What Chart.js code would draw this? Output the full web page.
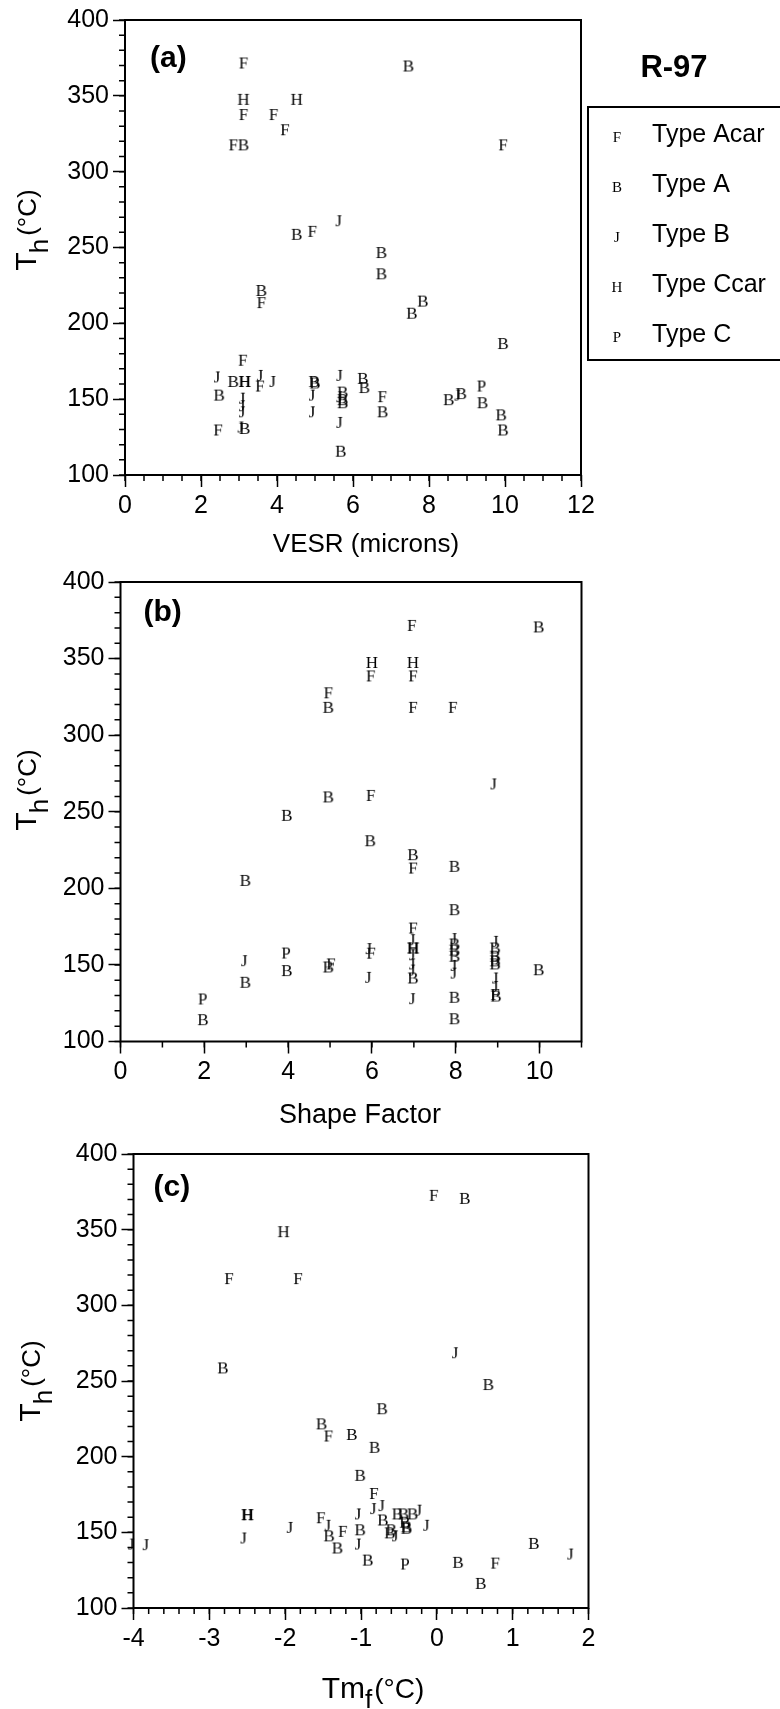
<!DOCTYPE html>
<html>
<head>
<meta charset="utf-8">
<script src="https://cdn.jsdelivr.net/npm/chart.js@4.4.1/dist/chart.umd.min.js"></script>
<style>
  html, body { margin: 0; padding: 0; background: #fff; }
  body { position: relative; width: 780px; height: 1709px; overflow: hidden; }
  canvas { position: absolute; left: 0; top: 0; }
</style>
</head>
<body>
<canvas id="chartA" width="780" height="1709"></canvas>
<canvas id="chartB" width="780" height="1709"></canvas>
<canvas id="chartC" width="780" height="1709"></canvas>
<script>
// inclusion types, legend order
const typeLabels = ['Type Acar', 'Type A', 'Type B', 'Type Ccar', 'Type C']
const typeSymbols = ['F', 'B', 'J', 'H', 'P']

// tick labels
const thTicks = [100, 150, 200, 250, 300, 350, 400]
const vesrTicks = [0, 2, 4, 6, 8, 10, 12]
const shapeTicks = [0, 2, 4, 6, 8, 10]
const tmfTicks = [-4, -3, -2, -1, 0, 1, 2]

// (a) VESR (microns) vs Th
const vesrAcar = [[3.12, 372], [3.12, 338], [3.91, 338], [4.21, 328], [2.85, 318], [4.93, 261], [3.59, 214], [3.10, 176], [2.45, 130], [3.55, 159], [6.77, 152], [9.95, 318]]
const vesrA = [[3.12, 318], [4.52, 259], [6.75, 247], [6.75, 233], [3.59, 222], [2.48, 153], [2.85, 162], [3.15, 131], [4.98, 162], [5.00, 161], [5.73, 155], [5.73, 150], [5.73, 148], [5.68, 116], [6.26, 164], [6.30, 158], [6.78, 142], [7.46, 370], [7.55, 207], [7.84, 215], [9.95, 187], [9.41, 148], [8.52, 150], [8.85, 154], [9.90, 140], [9.95, 130]]
const vesrB = [[5.62, 268], [2.42, 165], [3.08, 151], [3.08, 146], [3.08, 142], [3.04, 132], [3.55, 166], [3.88, 162], [4.92, 153], [4.92, 142], [5.64, 166], [5.64, 152], [5.64, 135], [8.75, 153]]
const vesrCcar = [[3.12, 348], [4.52, 348], [3.15, 162], [3.16, 162]]
const vesrC = [[9.38, 159], [15.65, 129]]

// (b) Shape Factor vs Th
const shapeAcar = [[6.95, 372], [5.97, 339], [4.96, 328], [5.97, 261], [6.98, 339], [6.98, 318.5], [7.93, 318.5], [5.02, 151], [5.98, 158], [6.98, 213.6], [6.98, 174.4], [8.94, 131]]
const shapeA = [[9.98, 371], [4.96, 318.5], [4.96, 260], [3.97, 248], [5.96, 231.4], [2.98, 205.5], [1.97, 114.6], [2.98, 139], [3.97, 146.6], [4.96, 149], [6.98, 222.3], [7.97, 214.7], [7.97, 186.4], [6.98, 141.8], [7.97, 164], [7.97, 160], [7.97, 156], [7.97, 129.2], [7.97, 115.2], [8.94, 161.4], [8.94, 156], [8.94, 153], [8.94, 151], [8.96, 130], [9.98, 147.2]]
const shapeB = [[8.90, 268.5], [2.95, 153.1], [5.92, 161], [5.91, 142.2], [6.96, 166.8], [6.96, 157], [6.96, 151], [6.96, 147], [6.96, 128.3], [7.95, 167.5], [7.95, 150], [7.95, 145], [8.94, 165.7], [8.94, 141.8], [8.94, 136.3]]
const shapeCcar = [[6.0, 347.8], [6.98, 347.8], [6.98, 161.4], [6.99, 161.4]]
const shapeC = [[1.96, 128.1], [3.95, 158.1]]

// (c) Tmf vs Th
const tmfAcar = [[-0.04, 373], [-2.74, 318], [-1.83, 318], [-1.43, 214], [-0.83, 176], [-1.53, 160], [-1.24, 151], [0.77, 130]]
const tmfA = [[0.37, 371], [-2.82, 259], [0.68, 248], [-0.72, 232], [-1.52, 222], [-1.12, 215], [-0.82, 206.5], [-1.01, 188], [-1.01, 152], [-0.91, 132], [-1.42, 148], [-1.31, 140], [-0.52, 162.5], [-0.71, 158.5], [-0.44, 162.5], [-0.32, 162.5], [-0.40, 153], [-0.40, 154], [-0.42, 157], [-0.62, 150], [-0.60, 152], [0.28, 130.5], [0.58, 116.6], [1.28, 143]]
const tmfB = [[0.24, 269], [-0.84, 166], [-0.73, 168], [-1.04, 162.5], [-1.04, 142.6], [-2.55, 146.6], [-1.94, 153.6], [-4.03, 142.6], [-3.84, 142.2], [-1.44, 155], [-0.24, 165], [-0.55, 148], [-0.14, 155], [1.76, 136]]
const tmfCcar = [[-2.02, 349], [-2.50, 162], [-2.49, 162]]
const tmfC = [[-0.42, 129.4]]

const SANS = '"Liberation Sans", Arial, sans-serif'
const SERIF = '"Liberation Serif", "Times New Roman", serif'

// letter used as a point marker
function glyph(ch, size) {
  const c = document.createElement('canvas')
  c.width = 24
  c.height = 24
  const g = c.getContext('2d')
  g.font = size + 'px ' + SERIF
  g.textAlign = 'center'
  g.textBaseline = 'alphabetic'
  g.fillStyle = '#000'
  g.fillText(ch, 12, 12 + size * 0.33)
  return c
}

function makeDatasets(series) {
  return series.map((pts, i) => ({
    label: typeLabels[i],
    data: pts.map(p => ({ x: p[0], y: p[1] })),
    pointStyle: glyph(typeSymbols[i], 17),
    pointRadius: 8,
    showLine: false,
    clip: false
  }))
}

function textRuns(ctx, segs) {
  let w = 0
  segs.forEach(s => {
    ctx.font = s.font
    w += (s.kern || 0) + ctx.measureText(s.text).width
  })
  return w
}

function drawRuns(ctx, segs, x0, y0) {
  let x = x0
  segs.forEach(s => {
    ctx.font = s.font
    x += s.kern || 0
    ctx.fillText(s.text, x, y0 + (s.dy || 0))
    x += ctx.measureText(s.text).width
  })
}

const thTitle = [
  { text: 'T', font: '30px ' + SANS },
  { text: 'h', font: '26px ' + SANS, dy: 12, kern: -1 },
  { text: '(°C)', font: '26px ' + SANS, kern: 3 }
]

const panelPlugin = {
  id: 'panel',
  afterDraw(chart, args, o) {
    const ctx = chart.ctx
    const a = chart.chartArea
    const xs = chart.scales.x
    const ys = chart.scales.y
    ctx.save()
    ctx.strokeStyle = '#000'
    ctx.fillStyle = '#000'

    // minor ticks
    ctx.lineWidth = 1.5
    ctx.beginPath()
    const nx = Math.round((xs.max - xs.min) / o.xMinor)
    for (let i = 0; i <= nx; i++) {
      const px = xs.getPixelForValue(xs.min + i * o.xMinor)
      ctx.moveTo(px, a.bottom)
      ctx.lineTo(px, a.bottom + 6)
    }
    const ny = Math.round((ys.max - ys.min) / 10)
    for (let i = 0; i <= ny; i++) {
      const py = ys.getPixelForValue(ys.min + i * 10)
      ctx.moveTo(a.left, py)
      ctx.lineTo(a.left - 6, py)
    }
    ctx.stroke()

    // frame
    ctx.lineWidth = 2
    ctx.strokeRect(a.left, a.top, a.right - a.left, a.bottom - a.top)

    // panel tag
    ctx.textAlign = 'left'
    ctx.textBaseline = 'alphabetic'
    ctx.font = 'bold 30px ' + SANS
    ctx.fillText(o.tag, a.left + o.tagDx, a.top + o.tagDy)

    // x title
    const xw = textRuns(ctx, o.xTitle)
    drawRuns(ctx, o.xTitle, o.xTitleX - xw / 2, o.xTitleY)

    // y title
    ctx.save()
    ctx.translate(o.yTitleX, o.yTitleY)
    ctx.rotate(-Math.PI / 2)
    const yw = textRuns(ctx, thTitle)
    drawRuns(ctx, thTitle, -yw / 2, 0)
    ctx.restore()

    if (o.legend) {
      ctx.font = 'bold 31px ' + SANS
      ctx.textAlign = 'center'
      ctx.fillText('R-97', 674, 77)
      ctx.lineWidth = 2
      ctx.strokeRect(588, 107, 220, 253)
      chart.data.datasets.forEach((ds, i) => {
        const base = 142 + i * 50
        ctx.font = '15px ' + SERIF
        ctx.textAlign = 'center'
        ctx.fillText(typeSymbols[i], 617, base)
        ctx.font = '25px ' + SANS
        ctx.textAlign = 'left'
        ctx.fillText(ds.label, 652, base)
      })
    }
    ctx.restore()
  }
}

function makeChart(id, series, box, xMin, xMax, xTicks, panel) {
  return new Chart(document.getElementById(id), {
    type: 'scatter',
    data: { datasets: makeDatasets(series) },
    options: {
      responsive: false,
      animation: false,
      events: [],
      layout: {
        padding: { left: 0, top: box.top, right: 780 - box.right, bottom: 0 }
      },
      plugins: {
        legend: { display: false },
        tooltip: { enabled: false },
        panel: panel
      },
      scales: {
        x: {
          type: 'linear',
          min: xMin,
          max: xMax,
          afterFit: s => { s.height = 1709 - box.bottom },
          afterBuildTicks: s => { s.ticks = xTicks.map(v => ({ value: v })) },
          border: { display: false },
          grid: { drawOnChartArea: false, drawTicks: true, tickLength: 12, tickColor: '#000', tickWidth: 1.5 },
          ticks: { color: '#000', padding: 4, maxRotation: 0, font: { family: SANS, size: 25 } }
        },
        y: {
          type: 'linear',
          min: 100,
          max: 400,
          afterFit: s => { s.width = box.left },
          afterBuildTicks: s => { s.ticks = thTicks.map(v => ({ value: v })) },
          border: { display: false },
          grid: { drawOnChartArea: false, drawTicks: true, tickLength: 12, tickColor: '#000', tickWidth: 1.5 },
          ticks: { color: '#000', padding: 4, font: { family: SANS, size: 25 } }
        }
      }
    },
    plugins: [panelPlugin]
  })
}

makeChart('chartA', [vesrAcar, vesrA, vesrB, vesrCcar, vesrC],
  { left: 125, top: 20, right: 581, bottom: 475 }, 0, 12, vesrTicks,
  {
    tag: '(a)', tagDx: 25, tagDy: 47, xMinor: 0.5,
    xTitle: [{ text: 'VESR (microns)', font: '26px ' + SANS }], xTitleX: 366, xTitleY: 552,
    yTitleX: 36, yTitleY: 230, legend: true
  })

makeChart('chartB', [shapeAcar, shapeA, shapeB, shapeCcar, shapeC],
  { left: 120.5, top: 582, right: 581.5, bottom: 1041.5 }, 0, 11, shapeTicks,
  {
    tag: '(b)', tagDx: 23, tagDy: 39, xMinor: 1,
    xTitle: [{ text: 'Shape Factor', font: '27px ' + SANS }], xTitleX: 360, xTitleY: 1123,
    yTitleX: 36, yTitleY: 790, legend: false
  })

makeChart('chartC', [tmfAcar, tmfA, tmfB, tmfCcar, tmfC],
  { left: 133.5, top: 1154, right: 588.5, bottom: 1608 }, -4, 2, tmfTicks,
  {
    tag: '(c)', tagDx: 20, tagDy: 42, xMinor: 0.2,
    xTitle: [
      { text: 'Tm', font: '30px ' + SANS },
      { text: 'f', font: '26px ' + SANS, dy: 10 },
      { text: '(°C)', font: '28px ' + SANS, kern: 2 }
    ],
    xTitleX: 373, xTitleY: 1698,
    yTitleX: 40, yTitleY: 1381, legend: false
  })
</script>
</body>
</html>
